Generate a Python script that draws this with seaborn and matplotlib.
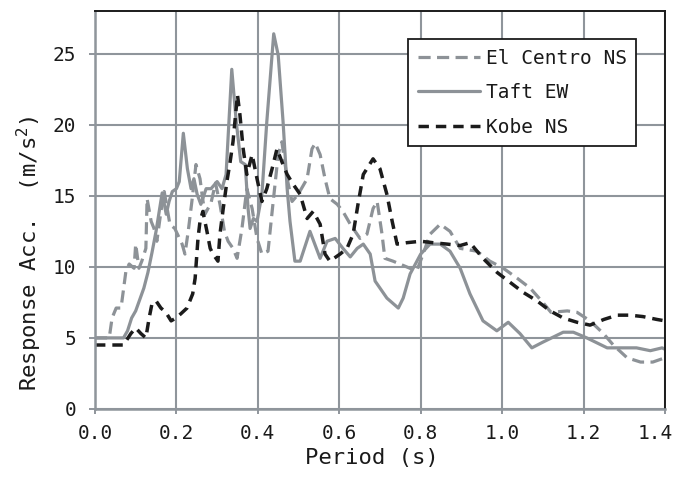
import matplotlib
matplotlib.use("Agg")
import numpy as np
import pandas as pd
import seaborn as sns
import matplotlib.pyplot as plt
from matplotlib.transforms import ScaledTranslation

# ---------------- data ----------------
elc_x = [0.0, 0.035, 0.042, 0.052, 0.064, 0.076, 0.084, 0.096, 0.1, 0.108, 0.115, 0.125,
         0.128, 0.138, 0.145, 0.152, 0.162, 0.17, 0.184, 0.196, 0.214, 0.221, 0.229, 0.238,
         0.248, 0.258, 0.263, 0.27, 0.285, 0.296, 0.307, 0.318, 0.327, 0.339, 0.349, 0.361,
         0.373, 0.386, 0.398, 0.41, 0.425, 0.437, 0.45, 0.459, 0.472, 0.484, 0.499, 0.521,
         0.533, 0.541, 0.553, 0.565, 0.577, 0.595, 0.609, 0.627, 0.651, 0.668, 0.683, 0.693,
         0.705, 0.712, 0.732, 0.757, 0.79, 0.806, 0.823, 0.848, 0.872, 0.897, 0.938, 0.97,
         1.003, 1.037, 1.069, 1.10, 1.12, 1.16, 1.184, 1.216, 1.249, 1.273, 1.307, 1.34,
         1.37, 1.40]
elc_y = [5.0, 5.0, 6.4, 7.1, 7.1, 9.7, 10.2, 9.9, 11.6, 9.9, 10.4, 11.3,
         14.8, 13.2, 12.7, 11.8, 13.9, 15.3, 13.0, 12.7, 11.6, 10.9, 12.5, 14.6,
         17.2, 16.2, 15.1, 13.7, 14.5, 15.9, 14.4, 12.5, 11.8, 11.3, 10.6, 12.7,
         15.5, 14.1, 12.0, 10.9, 11.1, 14.4, 17.9, 18.8, 16.2, 14.6, 15.1, 16.2,
         18.3, 18.7, 17.9, 16.2, 14.8, 14.4, 13.9, 13.0, 12.0, 12.3, 14.1, 14.6,
         12.3, 10.6, 10.4, 10.1, 9.7, 10.9, 12.3, 13.0, 12.5, 11.3, 11.1, 10.4,
         9.9, 9.2, 8.5, 7.5, 6.8, 6.9, 6.8, 6.2, 5.3, 4.5, 3.6, 3.3,
         3.3, 3.6]

taft_x = [0.0, 0.07, 0.08, 0.09, 0.10, 0.11, 0.12, 0.13, 0.14, 0.15, 0.165, 0.175,
          0.182, 0.19, 0.20, 0.207, 0.217, 0.227, 0.236, 0.243, 0.251, 0.26, 0.273, 0.285,
          0.30, 0.312, 0.322, 0.336, 0.347, 0.358, 0.369, 0.376, 0.381, 0.389, 0.398, 0.41,
          0.422, 0.439, 0.45, 0.462, 0.472, 0.479, 0.491, 0.504, 0.528, 0.553, 0.57, 0.59,
          0.609, 0.627, 0.644, 0.659, 0.676, 0.688, 0.717, 0.745, 0.757, 0.774, 0.80, 0.823,
          0.848, 0.872, 0.897, 0.921, 0.953, 0.987, 1.015, 1.044, 1.073, 1.10, 1.15, 1.175,
          1.208, 1.258, 1.283, 1.33, 1.364, 1.393, 1.40]
taft_y = [5.0, 5.0, 5.5, 6.4, 6.9, 7.7, 8.5, 9.6, 11.0, 12.5, 15.2, 13.7,
          14.6, 15.3, 15.5, 16.0, 19.4, 16.9, 15.5, 16.2, 15.1, 14.4, 15.5, 15.5,
          16.0, 15.5, 16.5, 23.9, 20.2, 17.4, 17.2, 14.1, 12.7, 13.4, 13.2, 15.1,
          20.2, 26.4, 24.9, 20.2, 15.5, 13.2, 10.4, 10.4, 12.5, 10.6, 11.8, 12.0,
          11.3, 10.7, 11.3, 11.6, 10.9, 9.0, 7.8, 7.1, 7.8, 9.5, 10.9, 11.6,
          11.6, 11.1, 9.9, 8.1, 6.2, 5.5, 6.1, 5.3, 4.3, 4.7, 5.4, 5.4,
          5.0, 4.3, 4.3, 4.3, 4.1, 4.3, 4.2]

kobe_x = [0.0, 0.07, 0.088, 0.1, 0.113, 0.125, 0.133, 0.14, 0.15, 0.162, 0.174, 0.187,
          0.199, 0.211, 0.226, 0.24, 0.246, 0.253, 0.258, 0.265, 0.275, 0.283, 0.29, 0.302,
          0.307, 0.315, 0.324, 0.332, 0.339, 0.35, 0.356, 0.364, 0.373, 0.386, 0.398, 0.41,
          0.422, 0.435, 0.447, 0.459, 0.472, 0.487, 0.504, 0.521, 0.536, 0.553, 0.565, 0.577,
          0.602, 0.619, 0.634, 0.646, 0.659, 0.683, 0.70, 0.717, 0.73, 0.742, 0.766, 0.80,
          0.83, 0.865, 0.897, 0.921, 0.953, 0.988, 1.02, 1.052, 1.086, 1.118, 1.15, 1.184,
          1.216, 1.25, 1.283, 1.314, 1.346, 1.38, 1.40]
kobe_y = [4.5, 4.5, 5.3, 5.7, 5.3, 5.0, 6.4, 7.4, 7.6, 7.1, 6.8, 6.2,
          6.4, 6.7, 7.1, 8.1, 9.2, 12.0, 13.2, 13.9, 12.5, 11.3, 10.9, 10.4,
          12.3, 14.1, 16.0, 17.4, 18.8, 22.1, 20.7, 18.3, 16.5, 17.9, 16.2, 14.6,
          15.5, 16.9, 18.3, 17.4, 16.5, 15.8, 15.1, 13.4, 13.9, 13.0, 10.9, 10.4,
          10.9, 11.3, 12.3, 14.4, 16.5, 17.6, 16.9, 15.1, 13.2, 11.6, 11.7, 11.8,
          11.7, 11.6, 11.5, 11.7, 10.6, 9.6, 8.9, 8.2, 7.6, 6.9, 6.4, 6.1,
          5.9, 6.3, 6.6, 6.6, 6.5, 6.3, 6.2]

series_names = ["El Centro NS", "Taft EW", "Kobe NS"]
x_ticks = [0.0, 0.2, 0.4, 0.6, 0.8, 1.0, 1.2, 1.4]
x_tick_labels = ["0.0", "0.2", "0.4", "0.6", "0.8", "1.0", "1.2", "1.4"]
y_ticks = [0, 5, 10, 15, 20, 25]

# ---------------- style ----------------
sns.set_theme(style="white")
plt.rcParams['font.family'] = ['DejaVu Sans Mono', 'DejaVu Sans']
plt.rcParams['mathtext.fontset'] = 'custom'
plt.rcParams['mathtext.rm'] = 'DejaVu Sans Mono'
plt.rcParams['mathtext.it'] = 'DejaVu Sans Mono'

GRAY = '#8d9297'
BLACK = '#1b1b1b'
GRID = '#8f959b'
TXT = '#1a1a1a'

fig = plt.figure(figsize=(6.76, 4.8), dpi=100)
ax = fig.add_axes([0.1405, 0.148, 0.8432, 0.829])

df_e = pd.DataFrame({"x": elc_x, "y": elc_y})
df_t = pd.DataFrame({"x": taft_x, "y": taft_y})
df_k = pd.DataFrame({"x": kobe_x, "y": kobe_y})

sns.lineplot(data=df_e, x="x", y="y", ax=ax, color=GRAY, linewidth=2.3,
             linestyle=(0, (3.8, 2.0)), label=series_names[0],
             estimator=None, sort=False)
sns.lineplot(data=df_t, x="x", y="y", ax=ax, color=GRAY, linewidth=2.3,
             label=series_names[1], estimator=None, sort=False)
sns.lineplot(data=df_k, x="x", y="y", ax=ax, color=BLACK, linewidth=2.5,
             linestyle=(0, (3.0, 2.0)), label=series_names[2],
             estimator=None, sort=False)

ax.set_xlim(0, 1.4)
ax.set_ylim(0, 28)
ax.set_xticks(x_ticks)
ax.set_xticklabels(x_tick_labels)
ax.set_yticks(y_ticks)

ax.grid(True, color=GRID, linewidth=1.5)
ax.set_axisbelow(True)

for s in ['left', 'bottom']:
    ax.spines[s].set_color(GRID)
    ax.spines[s].set_linewidth(1.8)
for s in ['top', 'right']:
    ax.spines[s].set_color(BLACK)
    ax.spines[s].set_linewidth(1.4)

ax.tick_params(axis='y', direction='out', length=4.5, width=1.4, color=GRID,
               labelsize=14, labelcolor=TXT, pad=9, left=True)
ax.tick_params(axis='x', direction='out', length=3.5, width=1.4, color=GRID,
               labelsize=14, labelcolor=TXT, pad=7, bottom=True)

# keep the last x tick label inside the figure
last = ax.get_xticklabels()[-1]
last.set_transform(last.get_transform() + ScaledTranslation(-7 / 72, 0, fig.dpi_scale_trans))

ax.set_xlabel("Period (s)", fontsize=16, color=TXT)
ax.set_ylabel("Response Acc.  (m/s$^2$)", fontsize=16, color=TXT)
ax.xaxis.set_label_coords(0.486, -0.098)
ax.yaxis.set_label_coords(-0.09, 0.39)

leg = ax.legend(loc='upper left', bbox_to_anchor=(0.549, 0.93), fontsize=14,
                frameon=True, fancybox=False, edgecolor=BLACK, framealpha=1,
                handlelength=3.2, handletextpad=0.3, labelspacing=0.8,
                borderpad=0.5, borderaxespad=0)
leg.get_frame().set_linewidth(1.3)
for t in leg.get_texts():
    t.set_color(TXT)

fig.savefig("out.png", dpi=100, facecolor='white')
